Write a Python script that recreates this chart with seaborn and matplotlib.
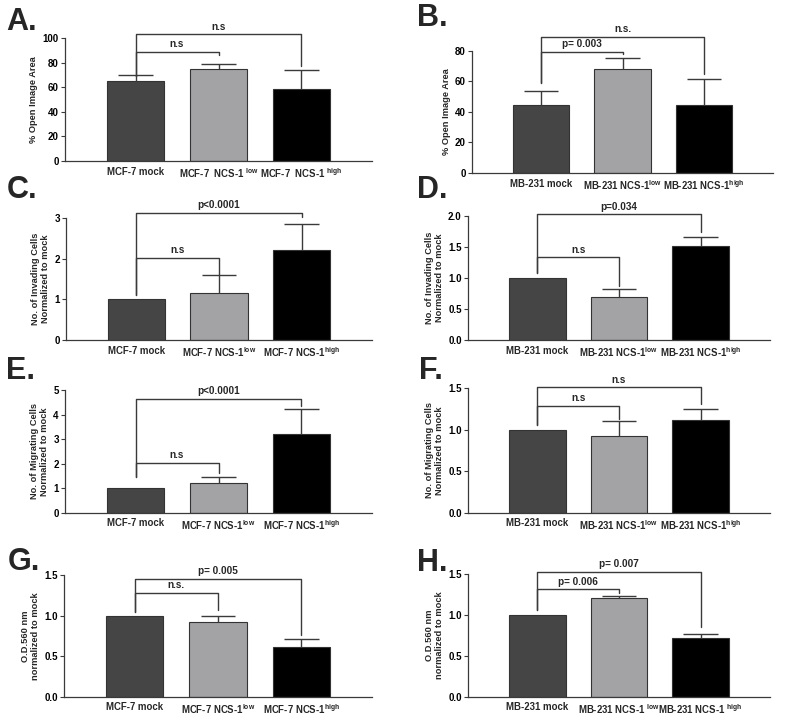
import numpy as np
import pandas as pd
import matplotlib.pyplot as plt
import seaborn as sns

sns.set_style("ticks")
plt.rcParams['font.family'] = ['Liberation Sans', 'DejaVu Sans']
plt.rcParams['font.weight'] = 'bold'
plt.rcParams['axes.labelweight'] = 'bold'
plt.rcParams['mathtext.fontset'] = 'custom'
plt.rcParams['mathtext.rm'] = 'Liberation Sans:bold'
plt.rcParams['mathtext.it'] = 'Liberation Sans:bold'
plt.rcParams['mathtext.bf'] = 'Liberation Sans:bold'

# Labels
mcf_labels_a = ['MCF-7 mock', 'MCF-7  NCS-1 $^{low}$', 'MCF-7  NCS-1 $^{high}$']
mcf_labels = ['MCF-7 mock', 'MCF-7 NCS-1$^{low}$', 'MCF-7 NCS-1$^{high}$']
mb_labels = ['MB-231 mock', 'MB-231 NCS-1$^{low}$', 'MB-231 NCS-1$^{high}$']
mb_labels_h = ['MB-231 mock', 'MB-231 NCS-1 $^{low}$', 'MB-231 NCS-1 $^{high}$']

# Means and error (upper SEM) per panel
open_mcf = [65.0, 74.5, 58.5]
open_mcf_err = [5.0, 4.5, 15.5]
open_mb = [44.5, 68.2, 44.3]
open_mb_err = [9.3, 7.2, 17.4]
inv_mcf = [1.0, 1.15, 2.23]
inv_mcf_err = [0.0, 0.44, 0.64]
inv_mb = [1.0, 0.686, 1.51]
inv_mb_err = [0.0, 0.13, 0.15]
mig_mcf = [1.0, 1.22, 3.21]
mig_mcf_err = [0.0, 0.23, 1.0]
mig_mb = [1.0, 0.925, 1.118]
mig_mb_err = [0.0, 0.18, 0.137]
od_mcf = [1.0, 0.916, 0.608]
od_mcf_err = [0.0, 0.083, 0.103]
od_mb = [1.0, 1.206, 0.723]
od_mb_err = [0.0, 0.032, 0.045]

bar_colors = ['#454545', '#a3a3a5', '#000000']
line_col = '#3a3a3a'

fig = plt.figure(figsize=(8, 7.24), dpi=100)
W, H = 800, 724


def add_ax(x0, x1, ybot, ytop):
    return fig.add_axes([x0 / W, 1 - ybot / H, (x1 - x0) / W, (ybot - ytop) / H])


def panel(ax, labels, means, errs, ylim, yticks, ytick_labels, ylabel, brackets):
    df = pd.DataFrame({'group': labels, 'value': means})
    sns.barplot(data=df, x='group', y='value', hue='group', palette=bar_colors,
                legend=False, width=0.69, errorbar=None, ax=ax,
                edgecolor='#333333', linewidth=0.8)
    x = np.arange(len(means))
    m = np.array(means)
    e = np.array(errs)
    keep = e > 0
    ax.vlines(x[keep], m[keep], (m + e)[keep], color=line_col, lw=1.0, zorder=3)
    ax.hlines((m + e)[keep], x[keep] - 0.21, x[keep] + 0.21, color=line_col, lw=1.0, zorder=3)
    for i, j, yb, yl, yr, txt in brackets:
        ax.plot([i, i, j, j], [yl, yb, yb, yr], color=line_col, lw=1.0, clip_on=False)
        ax.annotate(txt, xy=((i + j) / 2, yb), xytext=(0, 2), textcoords='offset points',
                    ha='center', va='bottom', fontsize=7.2, fontweight='bold',
                    annotation_clip=False)
    ax.set_xlim(-0.85, 2.85)
    ax.set_ylim(*ylim)
    ax.set_yticks(yticks)
    ax.set_yticklabels(ytick_labels)
    ax.set_xlabel('')
    ax.set_ylabel(ylabel, fontsize=6.7, labelpad=3)
    ax.tick_params(axis='y', labelsize=7, length=3, width=0.8, pad=1.5, colors=line_col,
                   labelcolor='black')
    ax.tick_params(axis='x', labelsize=6.9, length=0, pad=4)
    for s in ['left', 'bottom']:
        ax.spines[s].set_color(line_col)
        ax.spines[s].set_linewidth(0.9)
    sns.despine(ax=ax)


axA = add_ax(65, 372, 161, 38)
panel(axA, mcf_labels_a, open_mcf, open_mcf_err, (0, 100), [0, 20, 40, 60, 80, 100],
      ['0', '20', '40', '60', '80', '100'], '% Open Image Area',
      [(0, 1, 89, 69, 86, 'n.s'), (0, 2, 103, 69, 77, 'n.s')])

axB = add_ax(472, 773, 173, 50.7)
panel(axB, mb_labels, open_mb, open_mb_err, (0, 80), [0, 20, 40, 60, 80],
      ['0', '20', '40', '60', '80'], '% Open Image Area',
      [(0, 1, 79.3, 59, 77.8, 'p= 0.003'), (0, 2, 89.2, 59, 64.7, 'n.s.')])

axC = add_ax(66, 372, 340, 218.3)
panel(axC, mcf_labels, inv_mcf, inv_mcf_err, (0, 3), [0, 1, 2, 3],
      ['0', '1', '2', '3'], 'No. of Invading Cells\nNormalized to mock',
      [(0, 1, 2.03, 1.11, 1.6, 'n.s'), (0, 2, 3.14, 1.11, 3.02, 'p<0.0001')])

axD = add_ax(468, 770, 340, 215.7)
panel(axD, mb_labels, inv_mb, inv_mb_err, (0, 2), [0, 0.5, 1.0, 1.5, 2.0],
      ['0.0', '0.5', '1.0', '1.5', '2.0'], 'No. of Invading Cells\nNormalized to mock',
      [(0, 1, 1.33, 1.07, 0.87, 'n.s'), (0, 2, 2.02, 1.07, 1.74, 'p=0.034')])

axE = add_ax(65, 372, 512.7, 390)
panel(axE, mcf_labels, mig_mcf, mig_mcf_err, (0, 5), [0, 1, 2, 3, 4, 5],
      ['0', '1', '2', '3', '4', '5'], 'No. of Migrating Cells\nNormalized to mock',
      [(0, 1, 2.04, 1.47, 1.6, 'n.s'), (0, 2, 4.65, 1.47, 4.35, 'p<0.0001')])

axF = add_ax(468, 770, 512.7, 388.3)
panel(axF, mb_labels, mig_mb, mig_mb_err, (0, 1.5), [0, 0.5, 1.0, 1.5],
      ['0.0', '0.5', '1.0', '1.5'], 'No. of Migrating Cells\nNormalized to mock',
      [(0, 1, 1.29, 1.06, 1.13, 'n.s'), (0, 2, 1.51, 1.06, 1.31, 'n.s')])

axG = add_ax(64, 372, 696.7, 575)
panel(axG, mcf_labels, od_mcf, od_mcf_err, (0, 1.5), [0, 0.5, 1.0, 1.5],
      ['0.0', '0.5', '1.0', '1.5'], 'O.D.560 nm\nnormalized to mock',
      [(0, 1, 1.28, 1.05, 1.07, 'n.s.'), (0, 2, 1.45, 1.05, 0.76, 'p= 0.005')])

axH = add_ax(468, 770, 696.7, 574.3)
panel(axH, mb_labels_h, od_mb, od_mb_err, (0, 1.5), [0, 0.5, 1.0, 1.5],
      ['0.0', '0.5', '1.0', '1.5'], 'O.D.560 nm\nnormalized to mock',
      [(0, 1, 1.316, 1.063, 1.275, 'p= 0.006'), (0, 2, 1.533, 1.063, 0.85, 'p= 0.007')])

# Panel letters
for letter, px, py in [('A.', 6, 22), ('B.', 417, 18), ('C.', 7, 190), ('D.', 417, 190),
                       ('E.', 6, 371), ('F.', 419, 371), ('G.', 8, 562), ('H.', 417, 563)]:
    fig.text(px / W, 1 - py / H, letter, fontsize=22, fontweight='bold',
             ha='left', va='center')

fig.savefig('out.png', dpi=100)
